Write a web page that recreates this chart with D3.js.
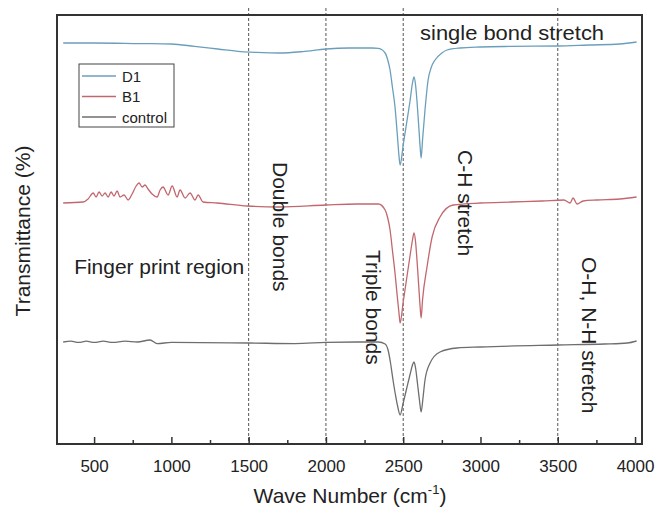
<!DOCTYPE html>
<html>
<head>
<meta charset="utf-8">
<script src="https://cdn.jsdelivr.net/npm/d3@7"></script>
<style>
  body { margin: 0; background: #fff; }
  svg { display: block; }
  text { font-family: "Liberation Sans", Arial, sans-serif; fill: #222; }
</style>
</head>
<body>
<svg id="chart" width="657" height="508"></svg>
<script>
// ---------- data (wave number cm-1, transmittance %) ----------
const seriesNames = ["D1", "B1", "control"];

const d1Wave = [300, 500, 800, 1000, 1150, 1300, 1450, 1550, 1700, 1850, 2000, 2150, 2300, 2340, 2383, 2400, 2415, 2430, 2447, 2462, 2474, 2480, 2500, 2520, 2545, 2560, 2570, 2580, 2590, 2600, 2610, 2616, 2625, 2641, 2661, 2680, 2706, 2750, 2784, 2868, 3000, 3200, 3500, 3700, 3900, 4010];
const d1Trans = [100.25, 100.25, 100.1, 100.0, 99.4, 98.75, 98.1, 97.9, 97.75, 98.1, 98.75, 99.0, 99.0, 98.9, 97.75, 96.0, 93.5, 89.25, 84.25, 77.25, 71.5, 69.75, 74.75, 79.75, 86.0, 90.25, 91.75, 89.75, 85.25, 79.75, 74.0, 71.5, 76.0, 83.5, 91.0, 94.0, 96.0, 97.75, 98.5, 99.0, 99.25, 99.4, 99.5, 99.75, 100.0, 100.5];

const b1Wave = [300, 429, 461, 494, 513, 532, 552, 571, 591, 610, 629, 649, 668, 694, 720, 746, 772, 791, 811, 830, 849, 875, 908, 927, 946, 979, 1005, 1037, 1056, 1089, 1121, 1153, 1173, 1205, 1296, 1490, 1700, 2000, 2200, 2340, 2383, 2400, 2415, 2430, 2447, 2462, 2474, 2480, 2500, 2520, 2545, 2560, 2570, 2580, 2590, 2600, 2610, 2616, 2625, 2654, 2687, 2738, 2823, 3000, 3200, 3400, 3540, 3580, 3599, 3625, 3664, 3754, 3900, 4010];
const b1Trans = [60.25, 60.5, 61.25, 62.75, 61.75, 63.0, 62.0, 62.75, 61.75, 63.0, 62.0, 63.25, 61.75, 62.25, 61.0, 62.5, 64.5, 65.25, 64.25, 64.75, 63.75, 62.5, 61.75, 63.5, 64.25, 62.25, 64.5, 61.75, 63.5, 61.5, 62.75, 61.0, 62.25, 60.5, 60.25, 59.5, 59.25, 59.75, 60.0, 60.0, 58.5, 56.5, 53.5, 48.5, 42.75, 36.75, 32.25, 30.25, 35.5, 40.75, 47.25, 51.0, 52.75, 50.5, 45.5, 39.75, 34.0, 31.5, 36.0, 44.25, 51.75, 56.75, 59.75, 60.25, 60.5, 60.75, 61.0, 60.25, 61.5, 60.0, 60.75, 61.0, 61.25, 61.75];

const ctrlWave = [300, 350, 400, 450, 500, 560, 620, 700, 780, 862, 908, 1000, 1500, 1800, 2000, 2200, 2340, 2383, 2402, 2418, 2434, 2450, 2465, 2480, 2500, 2520, 2545, 2560, 2570, 2580, 2592, 2605, 2616, 2628, 2641, 2674, 2738, 2848, 3000, 3500, 3800, 3950, 4010];
const ctrlTrans = [25.5, 25.7, 25.4, 25.7, 25.4, 25.7, 25.4, 25.7, 25.5, 26.0, 25.1, 25.4, 25.25, 25.1, 25.4, 25.5, 25.5, 25.0, 23.5, 20.25, 16.0, 12.25, 9.25, 7.25, 10.25, 13.5, 17.5, 19.75, 20.5, 19.0, 15.25, 11.0, 8.0, 11.5, 16.0, 20.25, 23.0, 24.0, 24.25, 24.75, 25.0, 25.25, 25.75];

const regionLines = [1500, 2000, 2500, 3500];
const xTicks = [500, 1000, 1500, 2000, 2500, 3000, 3500, 4000];
const xMinorTicks = [750, 1250, 1750, 2250, 2750, 3250, 3750];

const annotationsH = [
  { text: "single bond stretch", wave: 2609, trans: 101.0, len: 184 },
  { text: "Finger print region", wave: 371, trans: 42.5, len: 170 }
];
const annotationsV = [
  { text: "Double bonds", wave: 1660, trans: 70.5 },
  { text: "Triple bonds", wave: 2262, trans: 48.5 },
  { text: "C-H stretch", wave: 2855, trans: 73.5 },
  { text: "O-H, N-H stretch", wave: 3660, trans: 46.75 }
];

// ---------- layout ----------
const svg = d3.select("#chart");
const margin = { left: 57, top: 15, right: 15, bottom: 64 };
const W = 657, H = 508;
const iw = W - margin.left - margin.right;
const ih = H - margin.top - margin.bottom;

const x = d3.scaleLinear().domain([260, 4045]).range([margin.left, margin.left + iw]);
const y = d3.scaleLinear().domain([0, 107.25]).range([margin.top + ih, margin.top]);

const colors = { "D1": "#6a9fbc", "B1": "#c2676e", "control": "#6e6e6e" };

// dashed region lines
svg.append("g").selectAll("line").data(regionLines).join("line")
  .attr("x1", d => x(d)).attr("x2", d => x(d))
  .attr("y1", margin.top - 7).attr("y2", margin.top + ih)
  .attr("stroke", "#555").attr("stroke-width", 1)
  .attr("stroke-dasharray", "3,2");

// series
const series = [
  { name: "D1", wave: d1Wave, trans: d1Trans },
  { name: "B1", wave: b1Wave, trans: b1Trans },
  { name: "control", wave: ctrlWave, trans: ctrlTrans }
];
const line = d3.line().x(d => x(d[0])).y(d => y(d[1])).curve(d3.curveMonotoneX);
series.forEach(s => {
  const pts = s.wave.map((w, i) => [w, s.trans[i]]);
  svg.append("path").datum(pts)
    .attr("d", line)
    .attr("fill", "none")
    .attr("stroke", colors[s.name])
    .attr("stroke-width", 1.3);
});

// frame
svg.append("rect")
  .attr("x", margin.left).attr("y", margin.top)
  .attr("width", iw).attr("height", ih)
  .attr("fill", "none").attr("stroke", "#333").attr("stroke-width", 2);

// x axis (ticks inward)
const xAxis = d3.axisBottom(x).tickValues(xTicks).tickSize(-7).tickPadding(16)
  .tickFormat(d3.format("d"));
const gx = svg.append("g").attr("transform", `translate(0,${margin.top + ih})`).call(xAxis);
gx.select(".domain").remove();
gx.selectAll(".tick line").attr("stroke", "#333").attr("stroke-width", 1.5);
gx.selectAll(".tick text").attr("font-size", 17).attr("fill", "#333")
  .attr("font-family", "Liberation Sans, Arial, sans-serif");

const xMinor = d3.axisBottom(x).tickValues(xMinorTicks).tickSize(-4).tickFormat("");
const gxm = svg.append("g").attr("transform", `translate(0,${margin.top + ih})`).call(xMinor);
gxm.select(".domain").remove();
gxm.selectAll(".tick line").attr("stroke", "#333").attr("stroke-width", 1.5);

// axis titles
const xt = svg.append("text")
  .attr("x", 350).attr("y", 503)
  .attr("text-anchor", "middle").attr("font-size", 21).attr("fill", "#333");
xt.append("tspan").text("Wave Number (cm");
xt.append("tspan").attr("font-size", 13).attr("dy", -9).text("-1");
xt.append("tspan").attr("dy", 9).text(")");

svg.append("text")
  .attr("transform", `translate(30,231) rotate(-90)`)
  .attr("text-anchor", "middle").attr("font-size", 21).attr("fill", "#333")
  .text("Transmittance (%)");

// annotations
annotationsH.forEach(a => {
  svg.append("text")
    .attr("x", x(a.wave)).attr("y", y(a.trans))
    .attr("font-size", 21).attr("fill", "#222")
    .attr("textLength", a.len).attr("lengthAdjust", "spacingAndGlyphs")
    .text(a.text);
});
annotationsV.forEach(a => {
  svg.append("text")
    .attr("transform", `translate(${x(a.wave)},${y(a.trans)}) rotate(90)`)
    .attr("font-size", 21).attr("fill", "#222")
    .text(a.text);
});

// legend
const lg = svg.append("g").attr("transform", "translate(79,64)");
lg.append("rect").attr("width", 95).attr("height", 63)
  .attr("fill", "#fff").attr("stroke", "#444").attr("stroke-width", 1);
seriesNames.forEach((n, i) => {
  const yy = 12 + i * 20.5;
  lg.append("line").attr("x1", 3).attr("x2", 37).attr("y1", yy).attr("y2", yy)
    .attr("stroke", colors[n]).attr("stroke-width", 1.3);
  lg.append("text").attr("x", 43).attr("y", yy + 5.5)
    .attr("font-size", 15).attr("fill", "#333").text(n);
});
</script>
</body>
</html>
